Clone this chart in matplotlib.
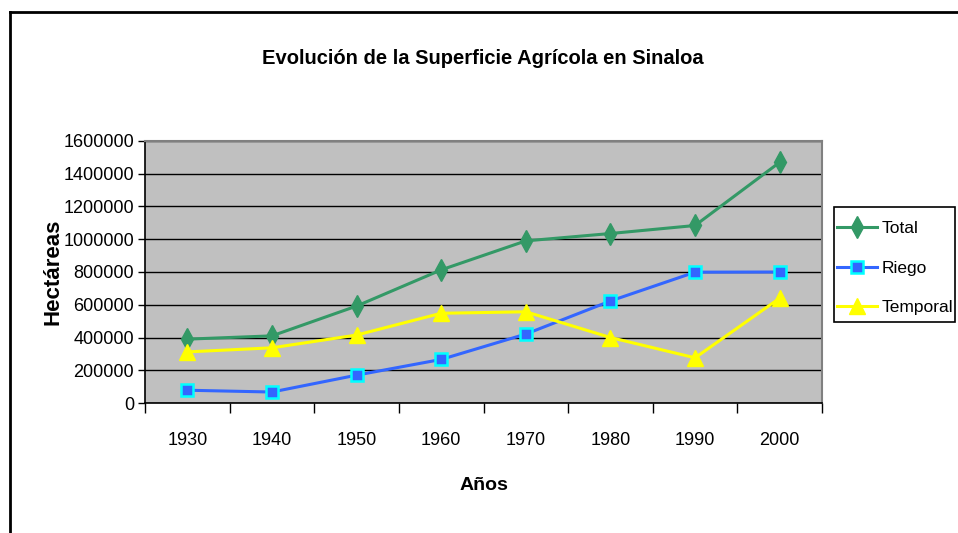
import matplotlib
matplotlib.use("Agg")
import matplotlib.pyplot as plt
from matplotlib.lines import Line2D
from matplotlib.patches import Rectangle

years = ["1930", "1940", "1950", "1960", "1970", "1980", "1990", "2000"]
total = [390000, 410000, 592000, 813000, 990000, 1035000, 1084000, 1470000]
riego = [78000, 67000, 170000, 266000, 421000, 623000, 799000, 800000]
temporal = [312000, 337000, 415000, 548000, 557000, 400000, 276000, 640000]
yticks = [0, 200000, 400000, 600000, 800000, 1000000, 1200000, 1400000, 1600000]

plt.rcParams["font.family"] = ["Liberation Sans", "DejaVu Sans"]

W, H = 958, 533
fig = plt.figure(figsize=(W / 100, H / 100), dpi=100)
fig.patch.set_facecolor("white")

# outer chart frame (left and top edges visible)
fig.add_artist(Line2D([10 / W, 10 / W], [0, 1 - 12 / H], color="black", lw=2,
                      transform=fig.transFigure))
fig.add_artist(Line2D([10 / W, 1], [1 - 12 / H, 1 - 12 / H], color="black", lw=2,
                      transform=fig.transFigure))

left, right, top, bottom = 145, 822, 141, 403
ax = fig.add_axes([left / W, 1 - bottom / H, (right - left) / W, (bottom - top) / H])
ax.set_facecolor("#C0C0C0")

x = list(range(len(years)))
ax.plot(x, total, color="#339966", lw=2.2, marker="d", markersize=11,
        markerfacecolor="#339966", markeredgecolor="#339966", label="Total", zorder=3)
ax.plot(x, riego, color="#3366FF", lw=2.2, marker="s", markersize=9,
        markerfacecolor="#3366FF", markeredgecolor="#00FFFF", markeredgewidth=1.8,
        label="Riego", zorder=3)
ax.plot(x, temporal, color="#FFFF00", lw=2.2, marker="^", markersize=11,
        markerfacecolor="#FFFF00", markeredgecolor="#FFFF00", label="Temporal", zorder=3)

ax.set_xlim(-0.5, len(years) - 0.5)
ax.set_ylim(0, 1600000)
ax.set_yticks(yticks)
ax.set_yticklabels([str(v) for v in yticks], fontsize=13)
ax.yaxis.grid(True, color="black", lw=1)
ax.set_axisbelow(True)

ax.set_xticks([i - 0.5 for i in range(len(years) + 1)], minor=False)
ax.set_xticklabels([])
ax.set_xticks(x, minor=True)
ax.set_xticklabels(years, minor=True, fontsize=13)
ax.tick_params(axis="x", which="major", direction="out", length=7, width=1, color="black")
ax.tick_params(axis="x", which="minor", length=0, pad=21)
ax.tick_params(axis="y", direction="out", length=5, width=1, color="black", pad=3)

for s in ["top", "right"]:
    ax.spines[s].set_color("#808080")
    ax.spines[s].set_linewidth(1.5)
for s in ["left", "bottom"]:
    ax.spines[s].set_color("black")
    ax.spines[s].set_linewidth(1.2)

ax.set_ylabel("Hectáreas", fontsize=16, fontweight="bold", labelpad=0)
ax.set_xlabel("Años", fontsize=14, fontweight="bold", labelpad=20)

fig.text(483 / W, 1 - 58 / H, "Evolución de la Superficie Agrícola en Sinaloa",
         ha="center", va="center", fontsize=14.5, fontweight="bold")

# legend box
fig.add_artist(Rectangle((834 / W, 1 - 322 / H), 121 / W, 115 / H, fill=False,
                         edgecolor="black", lw=1.2, transform=fig.transFigure))
leg = ax.legend(loc="upper left", bbox_to_anchor=(837 / W, 1 - 221 / H),
                bbox_transform=fig.transFigure, frameon=False,
                fontsize=12.5, handlelength=2.3, handletextpad=0.25,
                labelspacing=1.4, borderpad=0, borderaxespad=0)

fig.savefig("out.png", dpi=100)
